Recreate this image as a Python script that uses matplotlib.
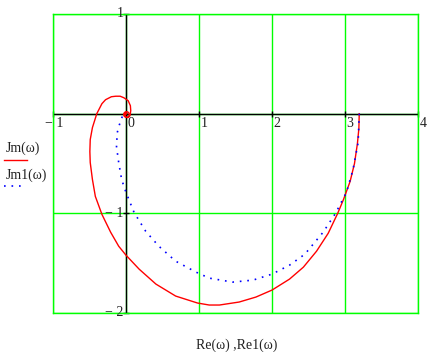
import matplotlib
matplotlib.use("Agg")
import matplotlib.pyplot as plt

plt.rcParams['font.family'] = ['Liberation Serif', 'DejaVu Serif']

# Nyquist curves
re = [3.195, 3.19, 3.17, 3.13, 3.07, 2.98, 2.90, 2.77, 2.61, 2.43, 2.24, 2.0, 1.78, 1.55, 1.28,
      1.14, 0.98, 0.68, 0.41, 0.18, 0.0, -0.10, -0.21, -0.33, -0.42, -0.46, -0.49, -0.495,
      -0.49, -0.46, -0.40, -0.33, -0.28, -0.20, -0.14, -0.08, -0.03, 0.03, 0.06, 0.065,
      0.055, 0.03, 0.0, -0.02, -0.015, 0.0, 0.01, 0.0]
jm = [0.0, -0.15, -0.3, -0.5, -0.68, -0.86, -1.0, -1.2, -1.38, -1.54, -1.66, -1.77, -1.84, -1.89, -1.92,
      -1.92, -1.90, -1.83, -1.71, -1.56, -1.42, -1.33, -1.19, -1.01, -0.83, -0.66, -0.49, -0.38,
      -0.26, -0.14, 0.0, 0.10, 0.14, 0.17, 0.175, 0.175, 0.16, 0.13, 0.08, 0.03,
      -0.02, -0.04, -0.035, -0.01, 0.01, 0.012, 0.0, -0.005]

re1 = [3.195, 3.18, 3.11, 3.02, 2.87, 2.70, 2.45, 2.24, 2.0, 1.74, 1.46, 1.14, 0.96, 0.68,
       0.45, 0.27, 0.11, 0.0, -0.06, -0.10, -0.13, -0.12, -0.09, -0.06, -0.04]
jm1 = [0.0, -0.29, -0.56, -0.79, -1.0, -1.19, -1.41, -1.52, -1.61, -1.67, -1.69, -1.65, -1.59, -1.48,
       -1.33, -1.18, -0.99, -0.79, -0.66, -0.49, -0.33, -0.19, -0.11, -0.05, 0.0]

xticks = [-1, 0, 1, 2, 3, 4]
yticks = [1, -1, -2]

fig = plt.figure(figsize=(4.33, 3.52), dpi=100)
ax = fig.add_axes([53/433, 1 - 313/352, 365/433, 299/352])
ax.set_xlim(-1, 4)
ax.set_ylim(-2, 1)

green = '#00ff00'
for x in range(-1, 5):
    ax.axvline(x, color=green, lw=1, zorder=1)
for y in range(-2, 2):
    ax.axhline(y, color=green, lw=1, zorder=1)
for s in ax.spines.values():
    s.set_color(green)
    s.set_linewidth(1)
ax.axhline(0, color='black', lw=1, zorder=2)
ax.axvline(0, color='black', lw=1, zorder=2)
ax.set_xticks([])
ax.set_yticks([])

# small tick marks on the axis lines
ax.plot(xticks, [0] * len(xticks), '|', color='black', ms=5, mew=1, zorder=2, clip_on=False)
ax.plot([0] * 4, [1, 0, -1, -2], '_', color='black', ms=5, mew=1, zorder=2, clip_on=False)

ax.plot(re, jm, color='red', lw=1, zorder=3)
ax.plot(0, 0, 'o', mfc='none', mec='red', ms=4, mew=1, zorder=3)
ax.plot(re1, jm1, color='blue', lw=1.2, ls=(0, (1, 3.5)), zorder=3)

tc = '#222222'
for x in xticks:
    lab = '\u2212 1' if x < 0 else str(x)
    ax.text(x + 0.02, -0.03, lab, ha='left' if x >= 0 else 'center', va='top',
            fontsize=10, color=tc, zorder=4)
ax.text(-0.03, 1.0, '1', ha='right', va='center', fontsize=10, color=tc)
for y in yticks[1:]:
    ax.text(-0.03, y, '\u2212 %d' % abs(y), ha='right', va='center', fontsize=10, color=tc)

# legend on the left
fig.text(6/433, 1 - 148/352, 'Jm(\u03c9)', ha='left', va='center', fontsize=10, color=tc)
fig.add_artist(plt.Line2D([4/433, 27/433], [1 - 160/352] * 2, color='red', lw=1))
fig.text(6/433, 1 - 175/352, 'Jm1(\u03c9)', ha='left', va='center', fontsize=10, color=tc)
fig.add_artist(plt.Line2D([4/433, 22/433], [1 - 186/352] * 2, color='blue', lw=1.2,
                          ls=(0, (1, 3.5))))

fig.text(237/433, 1 - 345/352, 'Re(\u03c9) ,Re1(\u03c9)', ha='center', va='center',
         fontsize=10, color=tc)

fig.savefig('out.png', dpi=100)
